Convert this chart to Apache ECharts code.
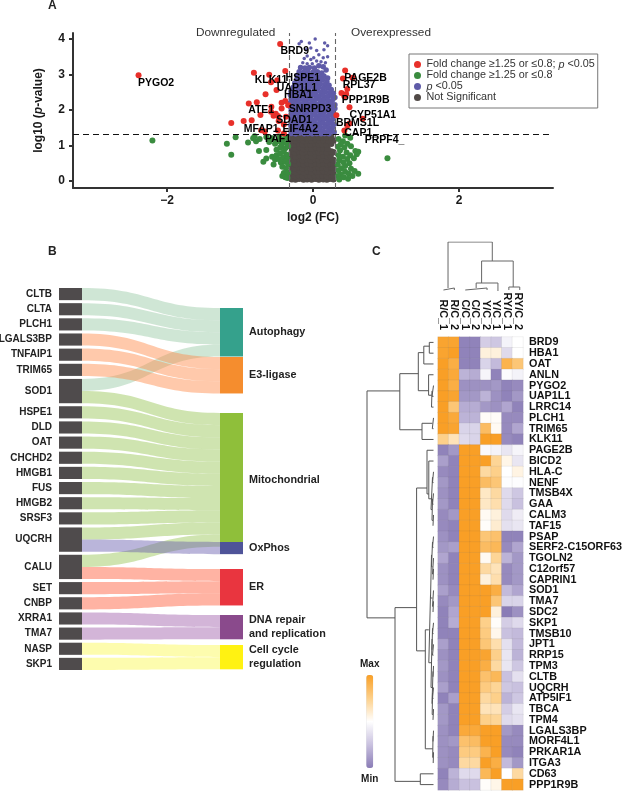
<!DOCTYPE html>
<html>
<head>
<meta charset="utf-8">
<title>Proteomics panels</title>
<script src="https://cdn.jsdelivr.net/npm/echarts@6/dist/echarts.min.js"></script>
<style>
  html, body { margin: 0; padding: 0; background: #fff; }
  #chart { width: 625px; height: 793px; }
</style>
</head>
<body>
<div id="chart"></div>
<script>
// panel A: volcano points, [log2 FC, -log10 p]
const significantFc = [
  [-2.39,2.98],[-0.45,3.86],[-0.81,3.05],[-0.6,2.99],[-0.38,3.1],[-0.575,2.78],[-0.49,2.84],[-0.5,2.56],
  [-0.65,2.44],[-0.88,2.18],[-0.77,2.22],[-0.43,2.2],[-0.38,2.25],[-0.34,2.13],[-0.57,2.09],[-0.43,2.04],
  [-0.72,1.86],[-0.575,1.95],[-0.51,1.89],[-0.54,1.84],[-0.48,1.83],[-0.95,1.69],[-0.84,1.71],[-1.12,1.63],
  [-0.47,1.69],[-0.4,1.59],[-0.37,1.81],[-0.71,1.43],[-0.66,1.39],[-0.48,1.42],[-0.4,1.34],
  [0.44,3.11],[0.41,2.89],[0.54,2.91],[0.47,2.59],[0.39,2.48],[0.455,2.45],[0.43,2.39],[0.5,2.08],
  [0.32,1.85],[0.5,1.62],[0.47,1.56],[0.68,1.75],[0.43,1.42],
]
const fcOnly = [
  [-2.2,1.14],[-1.18,1.05],[-1.06,1.23],[-1.12,0.74],[-0.89,1.08],[-0.78,1.12],[-0.82,1.2],[-0.8,1.26],
  [-0.74,0.84],[-0.64,0.87],[-0.68,0.54],[-0.64,0.63],[-0.54,0.46],[-0.73,1.18],[-0.64,1.24],[-0.6,1.1],
  [-0.52,1.05],[-0.56,1.2],[-0.46,1.25],[-0.42,1.16],[-0.37,1.22],[-0.49,1.12],[-0.43,1.04],[-0.36,1.06],
  [-0.5,0.88],[-0.45,0.94],[-0.38,0.92],[-0.34,0.98],[-0.56,0.68],[-0.5,0.72],[-0.45,0.78],[-0.4,0.82],
  [-0.36,0.74],[-0.52,0.6],[-0.47,0.62],[-0.41,0.66],[-0.35,0.62],[-0.44,0.52],[-0.38,0.54],[-0.34,0.48],
  [-0.42,0.4],[-0.37,0.36],[-0.4,0.22],[-0.36,0.18],[-0.42,0.14],[-0.38,0.1],[-0.34,0.24],[-0.35,0.08],
  [0.44,1.28],[0.51,1.22],[0.35,1.18],[0.41,1.12],[0.38,1.03],[0.47,1.05],[0.34,0.96],[0.43,0.94],
  [0.52,0.98],[0.58,0.84],[0.62,0.82],[0.6,0.75],[0.37,0.86],[0.46,0.8],[0.51,0.72],[0.35,0.72],
  [0.41,0.68],[0.47,0.62],[0.56,0.64],[0.36,0.58],[0.42,0.52],[0.5,0.5],[0.34,0.46],[0.44,0.42],
  [0.39,0.36],[0.52,0.34],[0.57,0.28],[0.35,0.3],[0.44,0.26],[0.49,0.2],[0.38,0.18],[0.54,0.14],
  [0.62,0.2],[0.34,0.14],[0.42,0.1],[0.48,0.06],[0.36,0.04],[1.02,0.64],
]
const pValueOnly = [
  [0.03,4],[-0.16,3.93],[0.16,3.89],[-0.19,3.87],[-0.05,3.89],[0.2,3.81],[-0.03,3.75],[-0.09,3.7],[0.15,3.7],[0.05,3.68],
  [0.08,3.56],[-0.08,3.52],[0.01,3.47],[0.14,3.47],[0.2,3.5],[-0.12,3.45],[-0.03,3.42],[0.05,3.38],[0.11,3.36],[0.17,3.33],
  [-0.14,3.33],[-0.08,3.3],[-0.01,3.3],[0.08,3.25],[0.14,3.22],[-0.17,3.2],[-0.11,3.18],[-0.05,3.2],[0.02,3.18],[0.18,3.13],
  [-0.19,3.08],[-0.13,3.06],[-0.07,3.09],[0,3.06],[0.06,3.08],[0.12,3.04],[-0.21,2.98],[-0.15,2.95],[-0.09,2.97],[-0.03,2.95],
  [0.03,2.97],[0.09,2.94],[0.15,2.96],[0.2,2.9],[-0.22,2.87],[-0.17,2.85],[-0.11,2.86],[-0.05,2.84],[0.01,2.86],[0.07,2.84],
  [0.13,2.85],[0.19,2.8],[-0.25,2.76],[-0.19,2.74],[-0.13,2.75],[-0.07,2.73],[-0.02,2.75],[0.04,2.73],[0.1,2.74],[0.16,2.72],
  [0.22,2.7],[-0.27,2.64],[-0.21,2.63],[-0.15,2.65],[-0.09,2.62],[-0.04,2.64],[0.02,2.62],[0.08,2.63],[0.14,2.61],[0.2,2.62],[0.25,2.58],
  [-0.3,2.53],[-0.24,2.51],[-0.18,2.53],[-0.12,2.5],[-0.07,2.52],[-0.01,2.5],[0.05,2.52],[0.11,2.5],[0.17,2.51],[0.23,2.49],[0.28,2.47],
  [-0.31,2.42],[-0.26,2.4],[-0.2,2.42],[-0.14,2.39],[-0.09,2.41],[-0.03,2.39],[0.03,2.41],[0.08,2.39],[0.14,2.4],[0.2,2.38],[0.26,2.4],[0.3,2.35],
  [-0.3,2.31],[-0.24,2.29],[-0.19,2.31],[-0.13,2.28],[-0.07,2.3],[-0.02,2.28],[0.04,2.3],[0.1,2.28],[0.15,2.29],[0.21,2.27],[0.27,2.29],
  [-0.31,2.2],[-0.26,2.18],[-0.2,2.2],[-0.15,2.17],[-0.09,2.19],[-0.03,2.17],[0.02,2.19],[0.08,2.17],[0.13,2.18],[0.19,2.16],[0.25,2.18],[0.3,2.15],
  [-0.31,2.09],[-0.25,2.07],[-0.19,2.09],[-0.14,2.06],[-0.08,2.08],[-0.02,2.06],[0.03,2.08],[0.09,2.06],[0.15,2.07],[0.2,2.05],[0.26,2.07],[0.3,2.04],
  [-0.3,1.98],[-0.24,1.96],[-0.18,1.98],[-0.13,1.95],[-0.07,1.97],[-0.01,1.95],[0.05,1.97],[0.1,1.95],[0.16,1.96],[0.22,1.94],[0.27,1.96],
  [-0.3,1.87],[-0.26,1.85],[-0.2,1.87],[-0.14,1.84],[-0.08,1.86],[-0.03,1.84],[0.03,1.86],[0.08,1.84],[0.14,1.85],[0.2,1.83],[0.25,1.85],[0.29,1.82],
  [-0.3,1.76],[-0.25,1.74],[-0.19,1.76],[-0.13,1.73],[-0.07,1.75],[-0.02,1.73],[0.04,1.75],[0.1,1.73],[0.15,1.74],[0.21,1.72],[0.27,1.74],
  [-0.3,1.65],[-0.26,1.63],[-0.2,1.65],[-0.14,1.62],[-0.09,1.64],[-0.03,1.62],[0.02,1.64],[0.08,1.62],[0.14,1.63],[0.2,1.61],[0.25,1.63],[0.29,1.6],
  [-0.3,1.54],[-0.24,1.52],[-0.18,1.54],[-0.13,1.51],[-0.07,1.53],[-0.01,1.51],[0.05,1.53],[0.1,1.51],[0.16,1.52],[0.22,1.5],[0.27,1.52],
  [-0.3,1.43],[-0.25,1.41],[-0.2,1.43],[-0.14,1.4],[-0.08,1.42],[-0.03,1.4],[0.03,1.42],[0.09,1.4],[0.14,1.41],[0.2,1.39],[0.26,1.41],[0.29,1.38],
  [-0.3,1.34],[-0.24,1.33],[-0.18,1.35],[-0.12,1.33],[-0.07,1.34],[-0.01,1.33],[0.05,1.34],[0.11,1.33],[0.16,1.34],[0.22,1.33],
]
const notSignificant = [
  [-0.29,0.05],[-0.24,0.04],[-0.19,0.06],[-0.13,0.04],[-0.08,0.05],[-0.02,0.04],[0.03,0.06],[0.08,0.04],[0.14,0.05],[0.19,0.04],[0.23,0.06],[0.28,0.05],
  [-0.29,0.16],[-0.25,0.14],[-0.2,0.17],[-0.14,0.14],[-0.08,0.16],[-0.03,0.14],[0.02,0.17],[0.08,0.15],[0.13,0.16],[0.19,0.14],[0.25,0.17],[0.28,0.15],
  [-0.29,0.27],[-0.24,0.25],[-0.18,0.28],[-0.13,0.25],[-0.07,0.27],[-0.02,0.25],[0.04,0.28],[0.09,0.26],[0.14,0.27],[0.2,0.25],[0.24,0.28],[0.28,0.26],
  [-0.29,0.38],[-0.25,0.36],[-0.19,0.39],[-0.14,0.36],[-0.08,0.38],[-0.03,0.36],[0.03,0.39],[0.08,0.37],[0.13,0.38],[0.19,0.36],[0.25,0.39],[0.28,0.37],
  [-0.29,0.49],[-0.24,0.47],[-0.18,0.5],[-0.13,0.47],[-0.07,0.49],[-0.02,0.47],[0.04,0.5],[0.09,0.48],[0.14,0.49],[0.2,0.47],[0.24,0.5],[0.28,0.48],
  [-0.29,0.6],[-0.25,0.58],[-0.19,0.61],[-0.14,0.58],[-0.08,0.6],[-0.03,0.58],[0.03,0.61],[0.08,0.59],[0.13,0.6],[0.19,0.58],[0.25,0.61],[0.28,0.59],
  [-0.29,0.71],[-0.24,0.69],[-0.18,0.72],[-0.13,0.69],[-0.07,0.71],[-0.02,0.69],[0.04,0.72],[0.09,0.7],[0.14,0.71],[0.2,0.69],[0.24,0.72],
  [-0.29,0.82],[-0.25,0.8],[-0.19,0.83],[-0.14,0.8],[-0.08,0.82],[-0.03,0.8],[0.03,0.83],[0.08,0.81],[0.13,0.82],[0.19,0.8],[0.25,0.83],[0.28,0.81],
  [-0.29,0.93],[-0.24,0.91],[-0.18,0.94],[-0.13,0.91],[-0.07,0.93],[-0.02,0.91],[0.04,0.94],[0.09,0.92],[0.14,0.93],[0.2,0.91],
  [-0.29,1.04],[-0.25,1.02],[-0.19,1.05],[-0.14,1.02],[-0.08,1.04],[-0.03,1.02],[0.03,1.05],[0.08,1.03],[0.13,1.04],[0.19,1.02],[0.25,1.05],
  [-0.29,1.15],[-0.24,1.13],[-0.18,1.16],[-0.13,1.13],[-0.07,1.15],[-0.02,1.13],[0.04,1.16],[0.09,1.14],[0.14,1.15],[0.21,1.13],[0.28,1.14],
  [-0.29,1.24],[-0.25,1.23],[-0.19,1.24],[-0.14,1.23],[-0.08,1.24],[-0.03,1.23],[0.03,1.24],[0.08,1.23],[0.13,1.24],[0.19,1.23],[0.25,1.24],
]
// gene label, x, y
const volcanoLabels = [
  ['PYGO2',-2.15,2.76],['BRD9',-0.25,3.65],['KLK11',-0.575,2.85],['HSPE1',-0.14,2.89],['UAP1L1',-0.22,2.62],
  ['HBA1',-0.2,2.42],['PAGE2B',0.72,2.9],['RPL37',0.63,2.69],['PPP1R9B',0.72,2.29],['SNRPD3',-0.04,2.03],
  ['ATE1',-0.71,1.99],['CYP51A1',0.82,1.86],['SDAD1',-0.26,1.7],['BRMS1L',0.61,1.63],['MFAP1',-0.71,1.47],
  ['EIF4A2',-0.175,1.45],['CAP1_',0.66,1.36],['PAF1',-0.48,1.19],['PRPF4_',0.98,1.14],
]
const pThreshold = 1.307
const fcThresholds = [-0.33, 0.31]

// panel B: sankey
const sankeyGenes = ['CLTB','CLTA','PLCH1','LGALS3BP','TNFAIP1','TRIM65','SOD1','HSPE1','DLD','OAT','CHCHD2','HMGB1','FUS','HMGB2','SRSF3','UQCRH','CALU','SET','CNBP','XRRA1','TMA7','NASP','SKP1']
const pathways = ['Autophagy','E3-ligase','Mitochondrial','OxPhos','ER','DNA repair\nand replication','Cell cycle\nregulation']
const pathwayGenes = [
  ['CLTB','CLTA','PLCH1','SOD1'],
  ['LGALS3BP','TNFAIP1','TRIM65'],
  ['SOD1','HSPE1','DLD','OAT','CHCHD2','HMGB1','FUS','HMGB2','SRSF3','UQCRH','CALU'],
  ['UQCRH'],
  ['CALU','SET','CNBP'],
  ['XRRA1','TMA7'],
  ['NASP','SKP1'],
]
const pathwayColors = ['#35a18c','#f58d2e','#8fbf3a','#4f5499','#e9353f','#8a4a8c','#fff212']
const ribbonColors = ['#94c7a2','#ff8744','#94c34f','#665bad','#ff5633','#9d5ba8','#fbf94b']
const pathwayTops = [308,357,413,542,569,615,645]

// panel C: heatmap, rows top to bottom, min -1 max 1
const heatColumns = ['R/C_1','R/C_2','C/C_1','C/C_2','Y/C_2','Y/C_1','RY/C_1','RY/C_2']
const heatGenes = ['BRD9','HBA1','OAT','ANLN','PYGO2','UAP1L1','LRRC14','PLCH1','TRIM65','KLK11','PAGE2B','BICD2','HLA-C','NENF','TMSB4X','GAA','CALM3','TAF15','PSAP','SERF2-C15ORF63','TGOLN2','C12orf57','CAPRIN1','SOD1','TMA7','SDC2','SKP1','TMSB10','JPT1','RRP15','TPM3','CLTB','UQCRH','ATP5IF1','TBCA','TPM4','LGALS3BP','MORF4L1','PRKAR1A','ITGA3','CD63','PPP1R9B']
const heatValues = [
  [.95,.95,-.95,-.95,-.4,-.45,-.1,0],
  [.95,1,-.95,-.95,.15,.15,-.3,0],
  [1,.85,-.95,-.95,-.35,-.55,.8,.6],
  [1,.9,-.6,-.65,-.08,-.95,-.03,-.1],
  [1,.85,-.85,-.85,-.85,-.8,-.95,-.9],
  [1,.95,-.8,-.8,-.6,-.85,-.95,-.8],
  [1,.6,-.65,-.65,-.8,-.85,-.7,-.95],
  [1,.9,-.6,-.6,.03,.03,-.9,-.9],
  [1,.95,-.35,-.35,.7,.05,-.9,-.7],
  [.5,.3,-.3,-.35,1,1,-.9,-.95],
  [-.95,-.8,1,1,-.05,-.1,-.2,-.08],
  [-.75,-.95,1,1,1,.45,.1,-.2],
  [-.9,-.95,1,1,.4,.5,0,.12],
  [-.8,-.95,1,1,.7,.6,-.02,-.02],
  [-.85,-.95,1,1,.25,.4,-.3,-.45],
  [-.8,-.95,1,1,.25,.35,-.3,-.5],
  [-.9,-.8,1,1,.05,.15,-.3,-.15],
  [-.9,-.95,1,1,.02,.2,-.25,-.2],
  [-.85,-.95,1,1,.6,.65,-.95,-.95],
  [-.8,-.75,1,1,.7,.75,-.9,-.7],
  [-.7,-.95,1,1,.05,.45,-.6,-.8],
  [-.85,-.95,1,1,.4,.3,-.9,-.8],
  [-.85,-.95,1,1,.15,.35,-.9,-.8],
  [-.75,-.9,1,1,1,.85,-.55,-.7],
  [-.9,-.8,1,1,1,.6,-.35,-.35],
  [-.95,-.7,1,1,1,.15,-1,-.85],
  [-.95,-.65,1,1,.5,.02,-.4,-.3],
  [-.95,-.95,1,1,.55,.08,-.5,-.55],
  [-.75,-.95,1,1,.6,.35,-.25,-.55],
  [-.85,-.95,1,1,.95,.5,-.2,-.6],
  [-.8,-.95,1,1,.85,.4,-.2,-.45],
  [-.85,-.95,1,1,.65,.75,-.5,-.25],
  [-.75,-.95,1,1,.55,.45,-.45,-.5],
  [-.95,-.75,1,1,.4,.5,-.6,-.45],
  [-.8,-.95,1,1,.3,.3,-.4,-.2],
  [-.8,-.95,1,1,.5,.45,-.3,-.25],
  [-.85,-.95,.9,.9,1,1,-.8,-.9],
  [-.85,-.8,.65,.7,1,1,-.9,-.9],
  [-.85,-.9,.55,.55,.8,1,-.9,-.95],
  [-.85,-.9,.4,.4,1,.85,-.55,-.8],
  [-.95,-.6,-.3,-.3,.75,1,0,.4],
  [-.9,-.65,-.5,-.5,.02,.1,1,1],
]
// dendrogram merges: [height, pos1, height1, pos2, height2]
const rowMerges = [
  [8.7,.5,4.5,1.5,4.5],[14.2,.85,8.7,2.5,4.5],[6,4.5,4.5,5.5,4.5],[6.5,5,6,6.5,4.5],[9.4,3.5,4.5,5.4,6.5],
  [19.7,1.45,14.2,4.98,9.4],[5.7,7.5,4.5,8.5,4.5],[16,8,5.7,9.5,4.5],[38.2,3.4,19.7,8.6,16],
  [5.5,12.5,4.5,13.5,4.5],[5.5,14.5,4.5,15.5,4.5],[5,16.5,4.5,17.5,4.5],[6,15,5.5,17,5],[7,13,5.5,16,6],
  [9.2,11.5,4.5,15,7],[11,10.5,4.5,14.55,9.2],
  [5.5,18.5,4.5,19.5,4.5],[5,21.5,4.5,22.5,4.5],[5.5,20.5,4.5,22,5],[6.5,19,5.5,21.3,5.5],
  [5,24.5,4.5,25.5,4.5],[5.5,23.5,4.5,25,5],[7.5,20.2,6.5,24.2,5.5],
  [5.5,26.5,4.5,27.5,4.5],[5.5,28.5,4.5,29.5,4.5],[6,27,5.5,29,5.5],[5,30.5,4.5,31.5,4.5],[5.5,32.5,4.5,33.5,4.5],
  [5,34.5,4.5,35.5,4.5],[5.8,33,5.5,35,5],[6,31,5,34,5.8],[7,28,6,32.5,6],[9.2,23.9,7.5,30.2,7],
  [5,36.5,4.5,37.5,4.5],[4.8,38.5,4.5,39.5,4.5],[5.3,37,5,39,4.8],[12.7,27.15,9.2,38.18,5.3],
  [21.4,14,11,29.1,12.7],[17.7,40.5,4.5,41.5,4.5],[43,25.09,21.4,41.2,17.7],[71,5,38.2,26.04,43],
]
const columnMerges = [
  [4,.5,2,1.5,2],[4,2.5,2,4.5,2],[9,3.5,4,5.5,1],[5,6.5,2,7.5,2],[31,4,9,6.9,5],[50,.92,4,4.98,31],
]

function mergeSegments(merges, horizontalHeight) {
  const points = []
  merges.forEach(([h, p1, h1, p2, h2]) => {
    const path = [[h1, p1], [h, p1], [h, p2], [h2, p2]]
    path.forEach(([a, b]) => points.push(horizontalHeight ? [a, b] : [b, a]))
    points.push(['-', '-'])
  })
  return points
}

const sankeyNodes = [
  ...sankeyGenes.map(name => ({
    name,
    itemStyle: { color: '#4f4b4c' },
    label: { position: 'left', distance: 7, fontSize: 10 },
  })),
  ...pathways.map((name, i) => ({
    name,
    localY: (pathwayTops[i] - 288) / 382,
    itemStyle: { color: pathwayColors[i] },
    label: { position: 'right', distance: 6, fontSize: 10.8, lineHeight: 13.5 },
  })),
]
const sankeyLinks = []
pathways.forEach((name, i) => {
  pathwayGenes[i].forEach(gene => {
    sankeyLinks.push({ source: gene, target: name, value: 1, lineStyle: { color: ribbonColors[i], opacity: 0.45 } })
  })
})

const heatData = []
heatValues.forEach((row, y) => row.forEach((v, x) => heatData.push([x, y, v])))

const SANS = '"Liberation Sans", Arial, sans-serif'
const TEXT = '#1a1a1a'

const SCATTER_NAMES = {
  red: 'Fold change \u22651.25 or \u22640.8; p <0.05',
  green: 'Fold change \u22651.25 or \u22640.8',
  blue: 'p <0.05',
  grey: 'Not Significant',
}

function scatter(name, data, color, size, z) {
  return { name, type: 'scatter', xAxisIndex: 0, yAxisIndex: 0, data, symbolSize: size, itemStyle: { color, opacity: 1 }, z, silent: true, clip: false }
}

const chart = echarts.init(document.getElementById('chart'), null, { renderer: 'canvas', width: 625, height: 793 })

chart.setOption({
  animation: false,
  backgroundColor: '#fff',
  textStyle: { fontFamily: SANS },
  graphic: [
    { type: 'text', x: 48, y: 0, style: { text: 'A', font: 'bold 12px ' + SANS, fill: '#222' } },
    { type: 'text', x: 48, y: 246, style: { text: 'B', font: 'bold 12px ' + SANS, fill: '#222' } },
    { type: 'text', x: 372, y: 246, style: { text: 'C', font: 'bold 12px ' + SANS, fill: '#222' } },
    { type: 'text', x: 196, y: 27, style: { text: 'Downregulated', font: '11.8px ' + SANS, fill: '#333' } },
    { type: 'text', x: 351, y: 27, style: { text: 'Overexpressed', font: '11.8px ' + SANS, fill: '#333' } },
  ],
  legend: {
    data: [SCATTER_NAMES.red, SCATTER_NAMES.green, SCATTER_NAMES.blue, SCATTER_NAMES.grey],
    orient: 'vertical',
    left: 409,
    top: 54,
    width: 188,
    padding: [5, 3, 5, 5],
    itemGap: 0,
    itemWidth: 8,
    itemHeight: 7,
    icon: 'circle',
    borderColor: '#777',
    borderWidth: 1,
    selectedMode: false,
    formatter(name) {
      return name.replace(/^p /, '{i|p} ').replace('; p ', '; {i|p} ')
    },
    textStyle: {
      fontFamily: SANS,
      fontSize: 10.8,
      color: '#333',
      lineHeight: 10.5,
      rich: { i: { fontStyle: 'italic', fontSize: 10.8, color: '#333', fontFamily: SANS } },
    },
  },
  visualMap: {
    type: 'continuous',
    seriesIndex: 4,
    dimension: 2,
    min: -1,
    max: 1,
    left: 345,
    top: 644,
    itemWidth: 7,
    itemHeight: 93,
    calculable: false,
    text: ['Max', 'Min'],
    textGap: 6,
    textStyle: { fontFamily: SANS, fontSize: 10, fontWeight: 'bold', color: TEXT },
    inRange: { color: ['#8a7cb6', '#c9c1df', '#ffffff', '#fdd08a', '#f99f26'] },
  },
  grid: [
    { left: 73, top: 33, width: 480, height: 155 },
    { left: 438, top: 337, width: 87.2, height: 453 },
    { left: 366, top: 337, width: 72, height: 453 },
    { left: 438, top: 242, width: 87.2, height: 50 },
  ],
  xAxis: [
    {
      type: 'value',
      gridIndex: 0,
      min: -3.288,
      max: 3.288,
      name: 'log2 (FC)',
      nameLocation: 'middle',
      nameGap: 24,
      nameTextStyle: { fontFamily: SANS, fontSize: 12, fontWeight: 'bold', color: TEXT },
      splitLine: { show: false },
      axisLine: { onZero: false, lineStyle: { color: '#333', width: 2 } },
      axisTick: { length: 4, customValues: [-2, 0, 2], lineStyle: { color: '#333', width: 2 } },
      axisLabel: {
        customValues: [-2, 0, 2],
        margin: 7,
        fontFamily: SANS,
        fontSize: 12,
        fontWeight: 'bold',
        color: TEXT,
        formatter: v => String(v).replace('-', '\u2212'),
      },
    },
    {
      type: 'category',
      gridIndex: 1,
      position: 'top',
      data: heatColumns,
      axisLine: { show: false },
      axisTick: { show: false },
      splitLine: { show: false },
      axisLabel: { rotate: 90, margin: 7, interval: 0, fontFamily: SANS, fontSize: 10.8, fontWeight: 'bold', color: '#111' },
    },
    { type: 'value', gridIndex: 2, min: 0, max: 72, inverse: true, show: false },
    { type: 'value', gridIndex: 3, min: 0, max: 8, show: false },
  ],
  yAxis: [
    {
      type: 'value',
      gridIndex: 0,
      min: -0.2,
      max: 4.17,
      name: '{b|log10 (}{i|p}{b|-value)}',
      nameLocation: 'middle',
      nameGap: 28,
      nameTextStyle: {
        fontFamily: SANS,
        color: TEXT,
        rich: {
          b: { fontFamily: SANS, fontSize: 12, fontWeight: 'bold', color: TEXT },
          i: { fontFamily: SANS, fontSize: 12, fontWeight: 'bold', fontStyle: 'italic', color: TEXT },
        },
      },
      splitLine: { show: false },
      axisLine: { onZero: false, lineStyle: { color: '#333', width: 2 } },
      axisTick: { length: 4, customValues: [0, 1, 2, 3, 4], lineStyle: { color: '#333', width: 2 } },
      axisLabel: { customValues: [0, 1, 2, 3, 4], margin: 8, fontFamily: SANS, fontSize: 12, fontWeight: 'bold', color: TEXT },
    },
    {
      type: 'category',
      gridIndex: 1,
      position: 'right',
      inverse: true,
      data: heatGenes,
      axisLine: { show: false },
      axisTick: { show: false },
      splitLine: { show: false },
      axisLabel: { interval: 0, margin: 6, fontFamily: SANS, fontSize: 10.8, fontWeight: 'bold', color: '#111' },
    },
    { type: 'value', gridIndex: 2, min: 0, max: 42, inverse: true, show: false },
    { type: 'value', gridIndex: 3, min: 0, max: 50, show: false },
  ],
  series: [
    scatter(SCATTER_NAMES.grey, notSignificant, '#514a47', 6.5, 2),
    scatter(SCATTER_NAMES.blue, pValueOnly, '#5f5ba8', v => (v[1] > 3.25 ? 3.5 : 5.5), 3),
    scatter(SCATTER_NAMES.green, fcOnly, '#3a8c3f', 6, 4),
    scatter(SCATTER_NAMES.red, significantFc, '#e8302a', 6, 5),
    {
      type: 'heatmap',
      xAxisIndex: 1,
      yAxisIndex: 1,
      data: heatData,
      silent: true,
      itemStyle: { borderColor: 'rgba(110,110,110,0.18)', borderWidth: 0.5 },
    },
    {
      type: 'scatter',
      name: 'geneLabels',
      xAxisIndex: 0,
      yAxisIndex: 0,
      data: volcanoLabels.map(d => [d[1], d[2], d[0]]),
      symbolSize: 1,
      itemStyle: { color: 'rgba(0,0,0,0)' },
      silent: true,
      z: 8,
      clip: false,
      label: {
        show: true,
        position: 'inside',
        formatter: p => p.value[2],
        fontFamily: SANS,
        fontSize: 10.5,
        fontWeight: 'bold',
        color: '#000',
        opacity: 1,
      },
    },
    {
      type: 'line',
      name: 'thresholds',
      xAxisIndex: 0,
      yAxisIndex: 0,
      data: [],
      silent: true,
      z: 6,
      markLine: {
        silent: true,
        symbol: 'none',
        animation: false,
        label: { show: false },
        data: [
          { yAxis: pThreshold, lineStyle: { color: '#111', type: [6, 4], width: 1.2 } },
          ...fcThresholds.map(v => ({ xAxis: v, lineStyle: { color: '#666', type: [5, 3], width: 1.1 } })),
        ],
      },
    },
    {
      type: 'sankey',
      left: 59,
      top: 288,
      width: 184,
      height: 382,
      nodeWidth: 23,
      nodeGap: 3,
      layoutIterations: 0,
      draggable: false,
      silent: true,
      emphasis: { disabled: true },
      data: sankeyNodes,
      links: sankeyLinks,
      label: { color: '#222', fontFamily: SANS, fontWeight: 'bold' },
      lineStyle: { curveness: 0.5 },
    },
    {
      type: 'line',
      name: 'rowDendrogram',
      xAxisIndex: 2,
      yAxisIndex: 2,
      data: mergeSegments(rowMerges, true),
      showSymbol: false,
      silent: true,
      connectNulls: false,
      lineStyle: { color: '#555', width: 1 },
    },
    {
      type: 'line',
      name: 'columnDendrogram',
      xAxisIndex: 3,
      yAxisIndex: 3,
      data: mergeSegments(columnMerges, false),
      showSymbol: false,
      silent: true,
      connectNulls: false,
      lineStyle: { color: '#666', width: 1 },
    },
  ],
})
</script>
</body>
</html>
